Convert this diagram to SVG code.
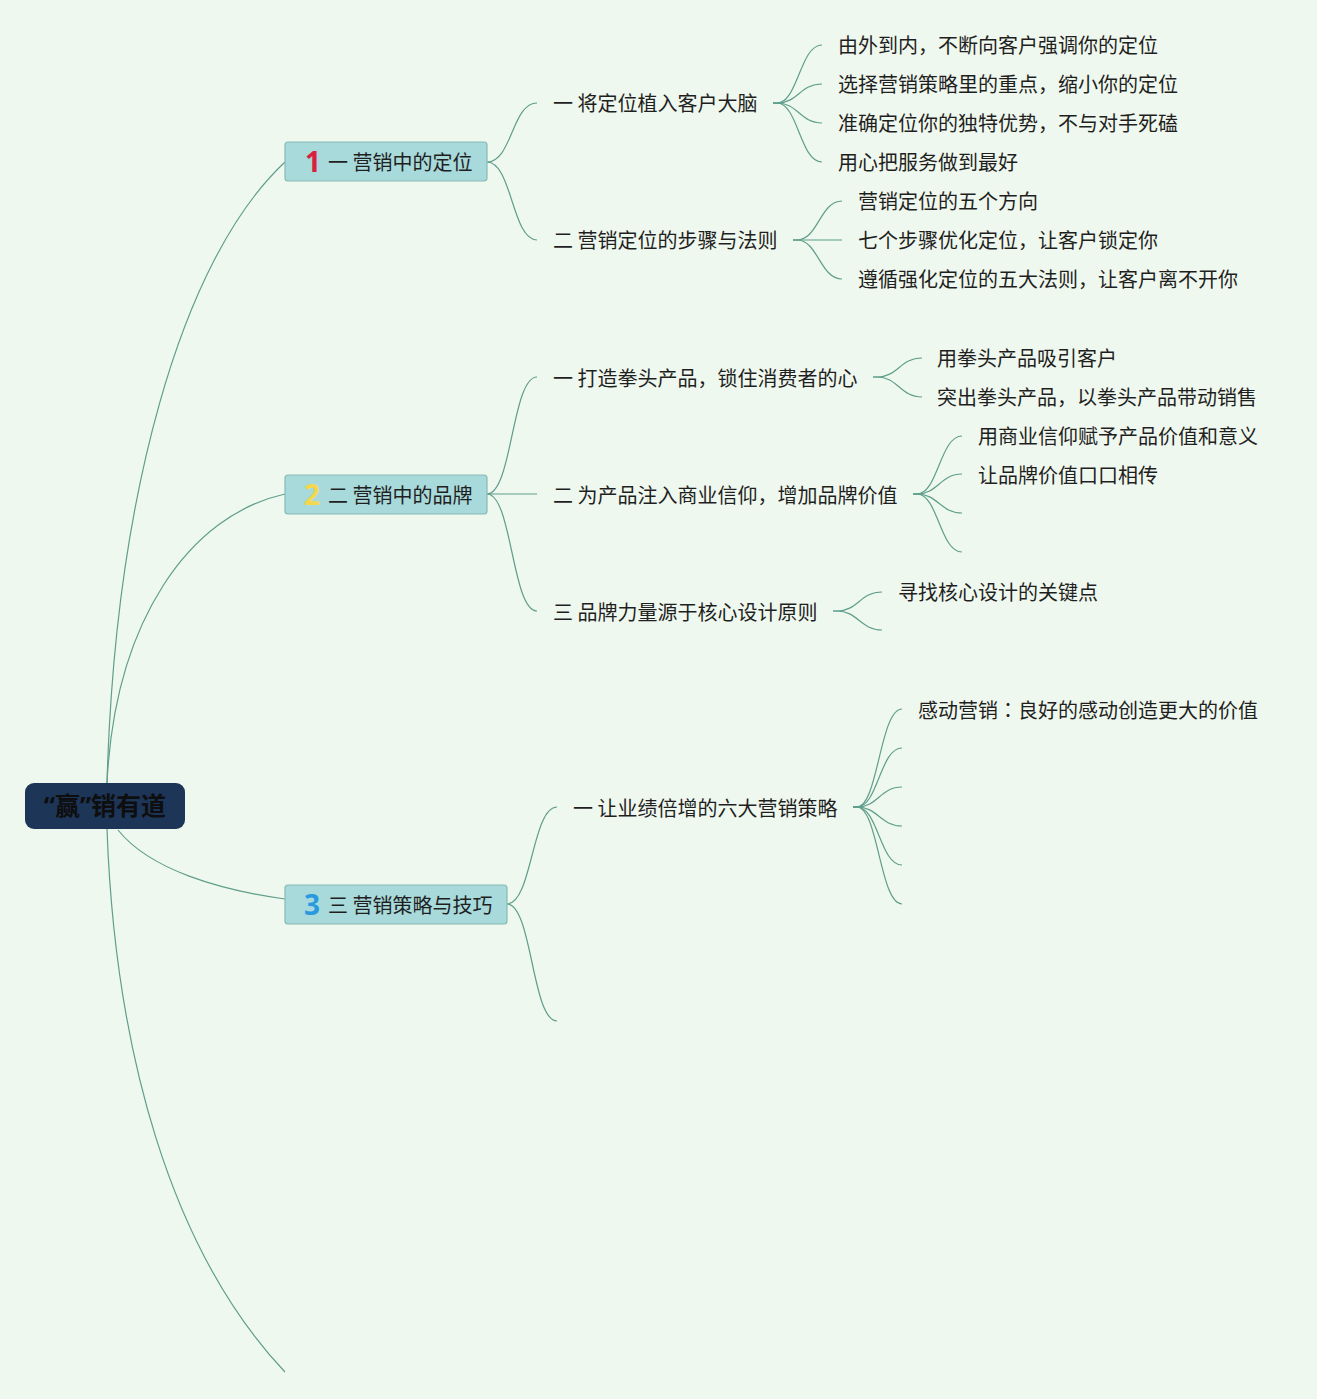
<svg xmlns="http://www.w3.org/2000/svg" width="1317" height="1399" viewBox="0 0 1317 1399">
<defs>
<style>
.bg{fill:#eff8ee}
.ln{fill:none;stroke:#5f9e8c;stroke-width:1.2}
.t{font-family:"Noto Sans CJK SC","Noto Sans",sans-serif;font-size:20px;fill:#1f1f1f}
.box{fill:#a8d9db;stroke:#85bcb4;stroke-width:1.2}
.num{font-family:"Noto Sans","Liberation Sans",sans-serif;font-size:28px;font-weight:bold;text-anchor:middle}
.root{font-family:"Noto Sans","Noto Sans CJK SC",sans-serif;font-size:25px;font-weight:bold;fill:#0e0e0e;text-anchor:middle}
.tc{font-family:"Noto Sans CJK TC",sans-serif}
</style>
</defs>
<rect class="bg" x="0" y="0" width="1317" height="1399"/>
<g id="connectors">
<path class="ln" d="M107,783 C115,500 180,260 285,162"/>
<path class="ln" d="M107,783 C115,620 190,515 285,494"/>
<path class="ln" d="M118,830 C150,870 220,890 285,899"/>
<path class="ln" d="M107,829 C115,1050 170,1250 285,1372"/>
<path class="ln" d="M487,162 C512,162 512,103 537,103"/>
<path class="ln" d="M487,162 C512,162 512,240 537,240"/>
<path class="ln" d="M487,494 C512,494 512,377 537,377"/>
<path class="ln" d="M487,494 L537,494"/>
<path class="ln" d="M487,494 C512,494 512,611 537,611"/>
<path class="ln" d="M507,904 C532,904 532,807 557,807"/>
<path class="ln" d="M507,904 C532,904 532,1021 557,1021"/>
<path class="ln" d="M773,103 L777,103 C798,103 800,45 822,45"/>
<path class="ln" d="M773,103 L777,103 C798,103 800,84 822,84"/>
<path class="ln" d="M773,103 L777,103 C798,103 800,123 822,123"/>
<path class="ln" d="M773,103 L777,103 C798,103 800,162 822,162"/>
<path class="ln" d="M793,240 L797,240 C818,240 820,201 842,201"/>
<path class="ln" d="M793,240 L842,240"/>
<path class="ln" d="M793,240 L797,240 C818,240 820,279 842,279"/>
<path class="ln" d="M873,377 L877,377 C898,377 900,358 922,358"/>
<path class="ln" d="M873,377 L877,377 C898,377 900,397 922,397"/>
<path class="ln" d="M913,494 L917,494 C938,494 940,436 962,436"/>
<path class="ln" d="M913,494 L917,494 C938,494 940,474 962,474"/>
<path class="ln" d="M913,494 L917,494 C938,494 940,513 962,513"/>
<path class="ln" d="M913,494 L917,494 C938,494 940,552 962,552"/>
<path class="ln" d="M833,611 L837,611 C858,611 860,592 882,592"/>
<path class="ln" d="M833,611 L837,611 C858,611 860,630 882,630"/>
<path class="ln" d="M853,807 L857,807 C878,807 880,709 902,709"/>
<path class="ln" d="M853,807 L857,807 C878,807 880,748 902,748"/>
<path class="ln" d="M853,807 L857,807 C878,807 880,787 902,787"/>
<path class="ln" d="M853,807 L857,807 C878,807 880,826 902,826"/>
<path class="ln" d="M853,807 L857,807 C878,807 880,865 902,865"/>
<path class="ln" d="M853,807 L857,807 C878,807 880,904 902,904"/>
</g>
<g id="root">
<rect x="25" y="783" width="160" height="46" rx="9" fill="#1d3557"/>
<text class="root" x="105" y="815">“赢”销有道</text>
</g>
<g id="n1">
<rect class="box" x="285" y="142" width="202" height="39" rx="3"/>
<text class="num" x="313" y="172" fill="#d9203f">1</text>
<text class="t" x="328" y="170">一 营销中的定位</text>
</g>
<g id="n2">
<rect class="box" x="285" y="475" width="202" height="39" rx="3"/>
<text class="num" x="312" y="505" fill="#f4d84c">2</text>
<text class="t" x="328" y="503">二 营销中的品牌</text>
</g>
<g id="n3">
<rect class="box" x="285" y="885" width="222" height="39" rx="3"/>
<text class="num" x="312" y="915" fill="#2a9ae0">3</text>
<text class="t" x="328" y="913">三 营销策略与技巧</text>
</g>
<g id="n1-1"><text class="t" x="553" y="111">一 将定位植入客户大脑</text></g>
<g id="n1-2"><text class="t" x="553" y="248">二 营销定位的步骤与法则</text></g>
<g id="n2-1"><text class="t" x="553" y="386">一 打造拳头产品，锁住消费者的心</text></g>
<g id="n2-2"><text class="t" x="553" y="503">二 为产品注入商业信仰，增加品牌价值</text></g>
<g id="n2-3"><text class="t" x="553" y="620">三 品牌力量源于核心设计原则</text></g>
<g id="n3-1"><text class="t" x="573" y="816">一 让业绩倍增的六大营销策略</text></g>
<g id="n1-1-1"><text class="t" x="838" y="53">由外到内，不断向客户强调你的定位</text></g>
<g id="n1-1-2"><text class="t" x="838" y="92">选择营销策略里的重点，缩小你的定位</text></g>
<g id="n1-1-3"><text class="t" x="838" y="131">准确定位你的独特优势，不与对手死磕</text></g>
<g id="n1-1-4"><text class="t" x="838" y="170">用心把服务做到最好</text></g>
<g id="n1-2-1"><text class="t" x="858" y="209">营销定位的五个方向</text></g>
<g id="n1-2-2"><text class="t" x="858" y="248">七个步骤优化定位，让客户锁定你</text></g>
<g id="n1-2-3"><text class="t" x="858" y="287">遵循强化定位的五大法则，让客户离不开你</text></g>
<g id="n2-1-1"><text class="t" x="937" y="366">用拳头产品吸引客户</text></g>
<g id="n2-1-2"><text class="t" x="937" y="405">突出拳头产品，以拳头产品带动销售</text></g>
<g id="n2-2-1"><text class="t" x="978" y="444">用商业信仰赋予产品价值和意义</text></g>
<g id="n2-2-2"><text class="t" x="978" y="483">让品牌价值口口相传</text></g>
<g id="n2-3-1"><text class="t" x="898" y="600">寻找核心设计的关键点</text></g>
<g id="n3-1-1"><text class="t" x="918" y="718">感动营销<tspan class="tc">：</tspan>良好的感动创造更大的价值</text></g>
</svg>
